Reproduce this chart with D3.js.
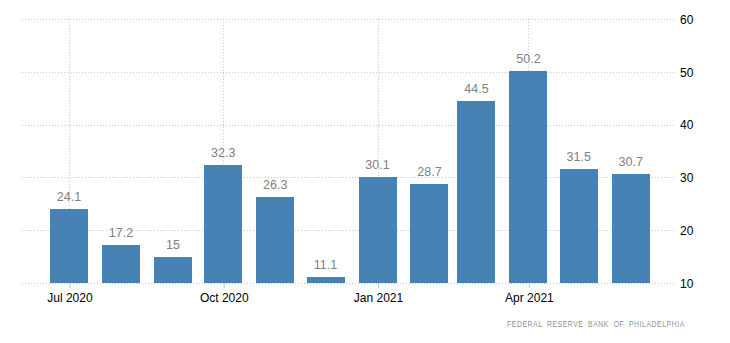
<!DOCTYPE html>
<html>
<head>
<meta charset="utf-8">
<script src="https://cdn.jsdelivr.net/npm/d3@7"></script>
<style>
  html, body { margin: 0; padding: 0; background: #fff; }
  svg { display: block; }
</style>
</head>
<body>
<svg id="chart" width="730" height="343"></svg>
<script>
// Monthly readings, Jul 2020 – Jun 2021
const months = ["2020-07", "2020-08", "2020-09", "2020-10", "2020-11", "2020-12",
                "2021-01", "2021-02", "2021-03", "2021-04", "2021-05", "2021-06"];
const values = [24.1, 17.2, 15, 32.3, 26.3, 11.1, 30.1, 28.7, 44.5, 50.2, 31.5, 30.7];
const xTickDates = ["2020-07", "2020-10", "2021-01", "2021-04"];
const yTicks = [10, 20, 30, 40, 50, 60];
const sourceText = "FEDERAL RESERVE BANK OF PHILADELPHIA";

const parse = d3.timeParse("%Y-%m");
const data = months.map((m, i) => ({ date: parse(m), value: values[i] }));

const svg = d3.select("#chart");
const plot = { left: 22, right: 676, top: 19, bottom: 283 };
const barWidth = 38;

const x = d3.scaleTime()
  .domain([new Date(2020, 5, 3), new Date(2021, 5, 28)])
  .range([plot.left, plot.right]);

const y = d3.scaleLinear()
  .domain([10, 60])
  .range([plot.bottom, plot.top]);

const font = "'Liberation Sans', Arial, sans-serif";
const gridColor = "#c8c8c8";

// horizontal grid
svg.append("g")
  .selectAll("line")
  .data(yTicks)
  .join("line")
  .attr("x1", plot.left)
  .attr("x2", plot.right)
  .attr("y1", d => Math.round(y(d)) + 0.5)
  .attr("y2", d => Math.round(y(d)) + 0.5)
  .attr("stroke", gridColor)
  .attr("stroke-width", 1)
  .attr("stroke-dasharray", "1,2");

// vertical grid at month ticks
const xTicks = xTickDates.map(parse);
svg.append("g")
  .selectAll("line")
  .data(xTicks)
  .join("line")
  .attr("x1", d => Math.round(x(d)) + 0.5)
  .attr("x2", d => Math.round(x(d)) + 0.5)
  .attr("y1", plot.top)
  .attr("y2", plot.bottom)
  .attr("stroke", gridColor)
  .attr("stroke-width", 1)
  .attr("stroke-dasharray", "1,2");

// bars
svg.append("g")
  .selectAll("rect")
  .data(data)
  .join("rect")
  .attr("x", d => Math.round(x(d.date) - barWidth / 2))
  .attr("width", barWidth)
  .attr("y", d => Math.round(y(d.value)))
  .attr("height", d => plot.bottom - Math.round(y(d.value)))
  .attr("fill", "#4682b4");

// value labels
svg.append("g")
  .selectAll("text")
  .data(data)
  .join("text")
  .attr("x", d => x(d.date))
  .attr("y", d => y(d.value) - 8)
  .attr("text-anchor", "middle")
  .attr("font-family", font)
  .attr("font-size", 12.5)
  .attr("fill", "#7f7f7f")
  .text(d => d3.format("~g")(d.value));

// bottom axis
const xAxis = d3.axisBottom(x)
  .tickValues(xTicks)
  .tickSize(5)
  .tickPadding(5)
  .tickFormat(d3.timeFormat("%b %Y"));

const gx = svg.append("g")
  .attr("transform", `translate(0.5,${plot.bottom})`)
  .call(xAxis);
gx.select(".domain").remove();
gx.selectAll(".tick line").attr("stroke", gridColor);
gx.selectAll(".tick text")
  .attr("font-family", font)
  .attr("font-size", 12)
  .attr("fill", "#000");

// right axis
const yAxis = d3.axisRight(y)
  .tickValues(yTicks)
  .tickSize(0)
  .tickPadding(4);

const gy = svg.append("g")
  .attr("transform", `translate(${plot.right},0.5)`)
  .call(yAxis);
gy.select(".domain").remove();
gy.selectAll(".tick text")
  .attr("font-family", font)
  .attr("font-size", 12)
  .attr("fill", "#000");

// source line, condensed horizontally to a fixed width
const sourceWidth = 178;
const src = svg.append("text")
  .attr("font-family", font)
  .attr("font-size", 9.5)
  .attr("letter-spacing", 0.8)
  .attr("word-spacing", 3)
  .attr("fill", "#8a8f99")
  .text(sourceText);
const natural = src.node().getComputedTextLength();
src.attr("transform", `translate(507,327) scale(${sourceWidth / natural},1)`);
</script>
</body>
</html>
